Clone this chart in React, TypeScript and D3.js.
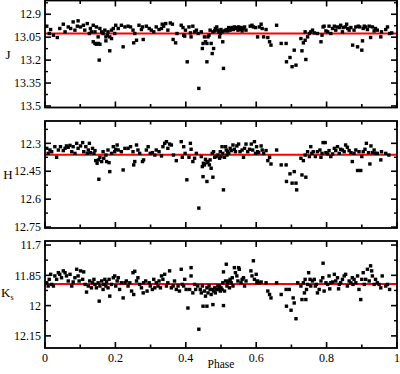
import React from 'react';
import * as d3 from 'd3';

// phase / magnitude pairs
const jData: [number, number][] = [
  [0.005, 12.978], [0.012, 13.026], [0.016, 13.0], [0.024, 13.037], [0.035, 13.052], [0.042, 12.993],
  [0.052, 12.965], [0.057, 13.015], [0.066, 12.983], [0.073, 12.993], [0.08, 12.95], [0.085, 13.004],
  [0.092, 12.978], [0.094, 12.943], [0.101, 12.983], [0.109, 12.972], [0.113, 13.004], [0.12, 12.961],
  [0.126, 13.026], [0.129, 12.993], [0.132, 13.015], [0.137, 12.972], [0.142, 13.015], [0.146, 12.983],
  [0.151, 13.048], [0.156, 12.993], [0.161, 13.015], [0.137, 13.08], [0.142, 13.091], [0.146, 13.096],
  [0.151, 13.091], [0.156, 13.096], [0.154, 13.2], [0.165, 13.026], [0.17, 13.004], [0.173, 13.048],
  [0.177, 13.037], [0.173, 13.074], [0.179, 13.015], [0.184, 13.048], [0.189, 13.004], [0.189, 13.059],
  [0.184, 13.139], [0.194, 12.993], [0.198, 13.026], [0.201, 12.972], [0.208, 12.993], [0.217, 12.972],
  [0.222, 13.113], [0.227, 12.983], [0.236, 12.978], [0.243, 12.983], [0.25, 13.004], [0.252, 13.087],
  [0.255, 13.026], [0.26, 13.07], [0.267, 12.972], [0.274, 13.0], [0.279, 13.065], [0.277, 12.983],
  [0.288, 12.978], [0.296, 12.993], [0.302, 13.004], [0.309, 13.015], [0.316, 12.983], [0.324, 13.0],
  [0.331, 12.993], [0.333, 12.965], [0.337, 12.978], [0.343, 12.961], [0.349, 13.004], [0.356, 12.957],
  [0.362, 12.965], [0.364, 13.065], [0.371, 13.087], [0.375, 13.026], [0.387, 12.972], [0.392, 12.987],
  [0.394, 13.037], [0.397, 13.043], [0.399, 13.004], [0.404, 13.211], [0.409, 12.983], [0.413, 13.022],
  [0.415, 13.048], [0.42, 12.978], [0.425, 13.015], [0.43, 13.004], [0.435, 13.026], [0.437, 13.385],
  [0.444, 13.015], [0.449, 13.091], [0.447, 13.124], [0.453, 13.048], [0.456, 13.08], [0.46, 13.091],
  [0.46, 13.211], [0.463, 13.048], [0.466, 13.037], [0.469, 13.004], [0.472, 13.091], [0.477, 13.015],
  [0.475, 13.157], [0.479, 13.124], [0.482, 13.009], [0.484, 12.993], [0.488, 12.983], [0.491, 13.004],
  [0.494, 13.015], [0.496, 13.048], [0.498, 13.026], [0.5, 13.0], [0.503, 13.015], [0.505, 13.08],
  [0.507, 13.254], [0.51, 13.009], [0.513, 13.004], [0.517, 13.0], [0.519, 13.009], [0.522, 12.987],
  [0.526, 13.004], [0.529, 12.993], [0.532, 12.987], [0.535, 13.0], [0.538, 12.983], [0.541, 12.993],
  [0.545, 12.987], [0.548, 13.004], [0.55, 12.983], [0.554, 13.0], [0.557, 12.987], [0.56, 13.009],
  [0.564, 12.993], [0.567, 12.983], [0.571, 13.004], [0.583, 12.978], [0.588, 12.972], [0.592, 12.983],
  [0.598, 12.987], [0.604, 13.048], [0.609, 12.983], [0.614, 12.965], [0.617, 12.993], [0.621, 13.048],
  [0.628, 13.0], [0.633, 13.052], [0.638, 13.08], [0.642, 13.102], [0.658, 12.972], [0.671, 13.091],
  [0.685, 13.091], [0.686, 13.211], [0.696, 13.183], [0.702, 13.243], [0.708, 13.135], [0.713, 13.233],
  [0.727, 13.059], [0.73, 13.139], [0.734, 13.087], [0.739, 13.07], [0.741, 13.196], [0.739, 13.015],
  [0.746, 13.048], [0.751, 13.026], [0.755, 13.015], [0.76, 13.004], [0.765, 13.022], [0.774, 13.026],
  [0.784, 13.08], [0.787, 13.037], [0.79, 12.983], [0.793, 12.978], [0.798, 13.009], [0.803, 13.015],
  [0.807, 12.978], [0.812, 13.026], [0.817, 12.993], [0.822, 12.978], [0.826, 13.004], [0.831, 12.983],
  [0.836, 12.987], [0.84, 12.972], [0.845, 13.015], [0.847, 12.987], [0.853, 12.983], [0.857, 12.965],
  [0.86, 12.993], [0.864, 13.004], [0.869, 12.987], [0.874, 13.102], [0.878, 13.004], [0.883, 12.983],
  [0.888, 13.113], [0.89, 12.978], [0.894, 12.983], [0.9, 13.135], [0.902, 13.074], [0.904, 12.993],
  [0.907, 12.978], [0.911, 12.983], [0.916, 13.0], [0.921, 12.978], [0.925, 13.052], [0.93, 12.983],
  [0.935, 13.009], [0.939, 12.993], [0.944, 13.004], [0.954, 13.048], [0.956, 13.015], [0.968, 13.0],
  [0.973, 12.983], [0.979, 13.026], [0.985, 13.022],
];

const hData: [number, number][] = [
  [0.005, 12.327], [0.009, 12.354], [0.014, 12.336], [0.019, 12.345], [0.028, 12.318], [0.033, 12.375],
  [0.038, 12.336], [0.044, 12.318], [0.052, 12.339], [0.057, 12.327], [0.061, 12.314], [0.066, 12.321],
  [0.071, 12.311], [0.076, 12.345], [0.08, 12.318], [0.085, 12.354], [0.09, 12.3], [0.094, 12.327],
  [0.101, 12.314], [0.107, 12.296], [0.11, 12.345], [0.116, 12.318], [0.12, 12.354], [0.123, 12.336],
  [0.126, 12.3], [0.129, 12.35], [0.135, 12.327], [0.139, 12.354], [0.142, 12.339], [0.144, 12.393],
  [0.148, 12.407], [0.152, 12.389], [0.153, 12.493], [0.156, 12.375], [0.161, 12.398], [0.165, 12.345],
  [0.167, 12.38], [0.173, 12.363], [0.175, 12.398], [0.179, 12.336], [0.182, 12.404], [0.184, 12.452],
  [0.189, 12.354], [0.194, 12.318], [0.198, 12.345], [0.201, 12.332], [0.205, 12.309], [0.208, 12.336],
  [0.217, 12.345], [0.222, 12.443], [0.227, 12.327], [0.236, 12.327], [0.243, 12.318], [0.25, 12.345],
  [0.252, 12.416], [0.255, 12.398], [0.26, 12.309], [0.264, 12.336], [0.269, 12.354], [0.277, 12.398],
  [0.28, 12.389], [0.288, 12.336], [0.293, 12.318], [0.299, 12.354], [0.305, 12.35], [0.312, 12.363],
  [0.316, 12.336], [0.324, 12.345], [0.331, 12.368], [0.335, 12.318], [0.34, 12.3], [0.345, 12.291],
  [0.349, 12.327], [0.354, 12.304], [0.359, 12.309], [0.365, 12.363], [0.373, 12.393], [0.387, 12.291],
  [0.39, 12.375], [0.394, 12.318], [0.398, 12.354], [0.403, 12.496], [0.409, 12.375], [0.413, 12.3],
  [0.415, 12.332], [0.42, 12.398], [0.425, 12.38], [0.43, 12.354], [0.437, 12.648],
  [0.444, 12.371], [0.447, 12.425], [0.45, 12.407], [0.453, 12.416], [0.456, 12.386], [0.46, 12.404],
  [0.463, 12.398], [0.449, 12.479], [0.46, 12.505], [0.467, 12.416], [0.469, 12.389], [0.472, 12.434],
  [0.475, 12.354], [0.477, 12.482], [0.479, 12.345], [0.482, 12.375], [0.486, 12.371], [0.491, 12.363],
  [0.496, 12.38], [0.498, 12.345], [0.5, 12.371], [0.503, 12.318], [0.505, 12.354], [0.507, 12.55],
  [0.51, 12.375], [0.513, 12.318], [0.515, 12.336], [0.517, 12.363], [0.519, 12.345], [0.522, 12.354],
  [0.526, 12.327], [0.529, 12.339], [0.534, 12.309], [0.538, 12.332], [0.541, 12.345], [0.545, 12.314],
  [0.55, 12.304], [0.554, 12.345], [0.56, 12.336], [0.564, 12.375], [0.567, 12.327], [0.571, 12.304],
  [0.576, 12.345], [0.581, 12.332], [0.586, 12.304], [0.59, 12.336], [0.595, 12.291], [0.598, 12.354],
  [0.601, 12.318], [0.604, 12.345], [0.607, 12.35], [0.614, 12.314], [0.617, 12.336], [0.621, 12.354],
  [0.628, 12.339], [0.633, 12.393], [0.638, 12.375], [0.642, 12.411], [0.658, 12.336], [0.671, 12.416],
  [0.685, 12.416], [0.686, 12.505], [0.696, 12.464], [0.702, 12.514], [0.708, 12.452], [0.713, 12.514],
  [0.715, 12.55], [0.727, 12.38], [0.73, 12.47], [0.734, 12.393], [0.739, 12.363], [0.741, 12.482],
  [0.746, 12.345], [0.751, 12.371], [0.755, 12.318], [0.758, 12.354], [0.762, 12.345], [0.768, 12.371],
  [0.774, 12.345], [0.781, 12.336], [0.784, 12.375], [0.787, 12.354], [0.79, 12.296], [0.796, 12.296],
  [0.798, 12.35], [0.803, 12.357], [0.807, 12.339], [0.812, 12.371], [0.817, 12.357], [0.822, 12.327],
  [0.826, 12.339], [0.831, 12.318], [0.836, 12.354], [0.84, 12.332], [0.845, 12.336], [0.85, 12.345],
  [0.854, 12.309], [0.859, 12.321], [0.864, 12.339], [0.869, 12.35], [0.873, 12.398], [0.878, 12.354],
  [0.883, 12.336], [0.888, 12.446], [0.892, 12.345], [0.897, 12.446], [0.9, 12.371], [0.904, 12.345],
  [0.909, 12.332], [0.913, 12.3], [0.919, 12.35], [0.923, 12.411], [0.926, 12.314], [0.93, 12.35],
  [0.935, 12.336], [0.939, 12.354], [0.944, 12.354], [0.954, 12.389], [0.956, 12.345], [0.968, 12.354],
  [0.977, 12.363],
];

const kData: [number, number][] = [
  [0.005, 11.887], [0.009, 11.903], [0.012, 11.87], [0.016, 11.845], [0.019, 11.895], [0.024, 11.903],
  [0.028, 11.853], [0.033, 11.87], [0.038, 11.837], [0.042, 11.845], [0.047, 11.862], [0.052, 11.828],
  [0.057, 11.837], [0.061, 11.853], [0.066, 11.878], [0.071, 11.845], [0.076, 11.903], [0.08, 11.883],
  [0.085, 11.862], [0.09, 11.82], [0.094, 11.853], [0.097, 11.878], [0.101, 11.828], [0.107, 11.87],
  [0.11, 11.833], [0.114, 11.895], [0.118, 11.933], [0.123, 11.903], [0.127, 11.878], [0.132, 11.912],
  [0.135, 11.887], [0.139, 11.87], [0.142, 11.895], [0.146, 11.912], [0.151, 11.887], [0.154, 11.978],
  [0.156, 11.903], [0.161, 11.878], [0.165, 11.92], [0.167, 11.895], [0.17, 11.87], [0.173, 11.903],
  [0.175, 11.883], [0.179, 11.912], [0.182, 11.87], [0.184, 11.953], [0.189, 11.895], [0.194, 11.862],
  [0.198, 11.853], [0.201, 11.903], [0.205, 11.878], [0.208, 11.862], [0.212, 11.92], [0.217, 11.887],
  [0.222, 11.962], [0.227, 11.887], [0.231, 11.878], [0.236, 11.903], [0.241, 11.887], [0.246, 11.928],
  [0.25, 11.837], [0.252, 11.945], [0.255, 11.83], [0.26, 11.878], [0.264, 11.862], [0.269, 11.895],
  [0.274, 11.912], [0.279, 11.937], [0.28, 11.887], [0.286, 11.878], [0.29, 11.928], [0.296, 11.887],
  [0.299, 11.903], [0.305, 11.92], [0.309, 11.87], [0.312, 11.912], [0.316, 11.887], [0.321, 11.903],
  [0.324, 11.878], [0.328, 11.912], [0.331, 11.853], [0.335, 11.87], [0.34, 11.845], [0.345, 11.903],
  [0.349, 11.887], [0.354, 11.828], [0.359, 11.912], [0.364, 11.903], [0.368, 11.878], [0.373, 11.92],
  [0.378, 11.903], [0.382, 11.928], [0.387, 11.82], [0.39, 11.895], [0.394, 11.903], [0.397, 11.87],
  [0.401, 11.92], [0.406, 12.012], [0.411, 11.92], [0.415, 11.812], [0.415, 11.853], [0.42, 11.937],
  [0.425, 11.895], [0.428, 11.92], [0.434, 11.903], [0.437, 12.117],
  [0.441, 11.92], [0.444, 11.937], [0.447, 11.903], [0.449, 12.003], [0.453, 11.928], [0.456, 11.953],
  [0.46, 11.912], [0.46, 12.003], [0.463, 11.937], [0.466, 11.903], [0.469, 11.92], [0.472, 11.945],
  [0.475, 11.92], [0.477, 11.995], [0.479, 11.928], [0.482, 11.912], [0.484, 11.937], [0.488, 11.92],
  [0.491, 11.903], [0.494, 11.92], [0.496, 11.903], [0.498, 11.928], [0.5, 11.912], [0.503, 11.92],
  [0.505, 11.887], [0.507, 12.0], [0.507, 11.833], [0.51, 11.928], [0.513, 11.878], [0.515, 11.795],
  [0.517, 11.903], [0.519, 11.887], [0.522, 11.878], [0.524, 11.912], [0.526, 11.87], [0.529, 11.887],
  [0.532, 11.862], [0.534, 11.903], [0.538, 11.812], [0.541, 11.837], [0.545, 11.853], [0.548, 11.878],
  [0.55, 11.812], [0.552, 11.82], [0.557, 11.887], [0.56, 11.87], [0.564, 11.862], [0.567, 11.903],
  [0.571, 11.878], [0.585, 11.828], [0.588, 11.853], [0.592, 11.778], [0.595, 11.87], [0.6, 11.845],
  [0.602, 11.887], [0.604, 11.878], [0.609, 11.887], [0.614, 11.883], [0.628, 11.887], [0.633, 11.928],
  [0.638, 11.945], [0.642, 11.962], [0.658, 11.887], [0.671, 11.945], [0.685, 11.92], [0.686, 12.003],
  [0.694, 11.92], [0.699, 12.023], [0.705, 11.962], [0.708, 11.987], [0.713, 12.065], [0.718, 11.887],
  [0.727, 11.903], [0.73, 11.97], [0.734, 11.887], [0.737, 11.937], [0.739, 11.87], [0.741, 11.97],
  [0.743, 11.92], [0.746, 11.895], [0.749, 11.837], [0.753, 11.87], [0.755, 11.903], [0.76, 11.878],
  [0.765, 11.87], [0.768, 11.903], [0.771, 11.895], [0.774, 11.937], [0.779, 11.92], [0.784, 11.878],
  [0.789, 11.862], [0.79, 11.79], [0.793, 11.928], [0.798, 11.887], [0.803, 11.895], [0.807, 11.853],
  [0.809, 11.917], [0.812, 11.887], [0.817, 11.883], [0.822, 11.845], [0.826, 11.878], [0.831, 11.862],
  [0.834, 11.917], [0.836, 11.895], [0.84, 11.887], [0.845, 11.87], [0.85, 11.853], [0.854, 11.845],
  [0.859, 11.903], [0.864, 11.878], [0.869, 11.887], [0.873, 11.862], [0.875, 11.895], [0.878, 11.87],
  [0.883, 11.887], [0.888, 11.853], [0.892, 11.92], [0.897, 11.97], [0.9, 11.87], [0.904, 11.837],
  [0.907, 11.895], [0.911, 11.87], [0.916, 11.82], [0.921, 11.878], [0.925, 11.803], [0.928, 11.828],
  [0.93, 11.853], [0.935, 11.895], [0.939, 11.87], [0.944, 11.887], [0.949, 11.895], [0.954, 11.912],
  [0.958, 11.853], [0.968, 11.903], [0.973, 11.895], [0.979, 11.92],
];

// mean magnitudes (red lines)
const meanMags = [13.026, 12.362, 11.893];
const bandData = [jData, hData, kData];
const yDomains: [number, number][] = [[12.81, 13.51], [12.18, 12.755], [11.68, 12.21]];
const yTickValues = [
  [12.9, 13.05, 13.2, 13.35, 13.5],
  [12.3, 12.45, 12.6, 12.75],
  [11.7, 11.85, 12, 12.15],
];
const xTickValues = [0, 0.2, 0.4, 0.6, 0.8, 1];

const W = 400;
const H = 374;
const left = 45;
const right = 397;
const panelTops = [0.5, 121, 241];
const panelBottoms = [107.5, 228, 348];
const font = "'Liberation Serif', 'Times New Roman', serif";
const txt = { fontFamily: font };

export default function App() {
  const x = d3.scaleLinear().domain([0, 1]).range([left, right]);
  const minorX = d3.range(0, 1.0001, 0.1);

  return (
    <svg width={W} height={H} style={{ position: 'absolute', left: 0, top: 0, background: '#fff' }}>
      {bandData.map((data, i) => {
        const y = d3.scaleLinear().domain(yDomains[i]).range([panelTops[i], panelBottoms[i]]);
        const majors = yTickValues[i];
        const minors = majors.slice(0, -1).map((v) => v + 0.075);
        if (i === 1) minors.unshift(12.225);
        if (i === 0) minors.unshift(12.825);
        const top = panelTops[i];
        const bottom = panelBottoms[i];
        const mid = (top + bottom) / 2;
        return (
          <g key={i}>
            <line x1={left} x2={right} y1={y(meanMags[i])} y2={y(meanMags[i])} stroke="#ff0000" strokeWidth={2} />
            {data.map((d, k) => (
              <rect key={k} x={x(d[0]) - 1.7} y={y(d[1]) - 1.7} width={3.4} height={3.4} fill="#000" />
            ))}
            {/* y ticks both sides, pointing inward */}
            {majors.map((v) => (
              <g key={'M' + v}>
                <line x1={left} x2={left + 6} y1={y(v)} y2={y(v)} stroke="#000" strokeWidth={1.6} />
                <line x1={right} x2={right - 6} y1={y(v)} y2={y(v)} stroke="#000" strokeWidth={1.6} />
                <text x={left - 4} y={y(v)} dy="0.35em" textAnchor="end" style={txt} fontSize={12}>
                  {String(v)}
                </text>
              </g>
            ))}
            {minors.map((v) => (
              <g key={'m' + v}>
                <line x1={left} x2={left + 3} y1={y(v)} y2={y(v)} stroke="#000" strokeWidth={1.4} />
                <line x1={right} x2={right - 3} y1={y(v)} y2={y(v)} stroke="#000" strokeWidth={1.4} />
              </g>
            ))}
            {/* x ticks top and bottom */}
            {minorX.map((v, k) => {
              const len = k % 2 === 0 ? 6 : 3.5;
              return (
                <g key={'x' + k}>
                  <line x1={x(v)} x2={x(v)} y1={bottom} y2={bottom - len} stroke="#000" strokeWidth={1.6} />
                  <line x1={x(v)} x2={x(v)} y1={top} y2={top + len} stroke="#000" strokeWidth={1.6} />
                </g>
              );
            })}
            <rect x={left} y={top} width={right - left} height={bottom - top} fill="none" stroke="#000" strokeWidth={1.8} />
            {i < 2 ? (
              <text x={8} y={mid} dy="0.35em" textAnchor="middle" style={txt} fontSize={13}>
                {i === 0 ? 'J' : 'H'}
              </text>
            ) : (
              <text x={1} y={mid - 2} dy="0.35em" textAnchor="start" style={txt} fontSize={13}>
                K<tspan fontSize={8} dy={3}>s</tspan>
              </text>
            )}
          </g>
        );
      })}
      {xTickValues.map((v) => (
        <text key={v} x={x(v)} y={361.5} textAnchor="middle" style={txt} fontSize={12}>
          {String(v)}
        </text>
      ))}
      <text x={(left + right) / 2} y={368} textAnchor="middle" style={txt} fontSize={11.5}>
        Phase
      </text>
    </svg>
  );
}
